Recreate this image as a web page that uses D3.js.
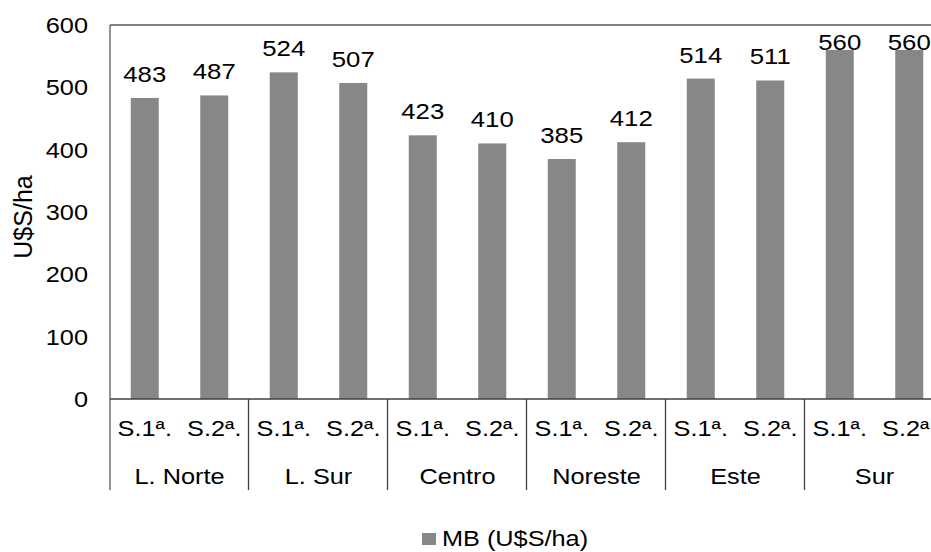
<!DOCTYPE html>
<html>
<head>
<meta charset="utf-8">
<script src="https://cdn.jsdelivr.net/npm/d3@7"></script>
<style>
  html, body { margin: 0; padding: 0; background: #fff; }
  svg { display: block; font-family: "Liberation Sans", Arial, sans-serif; }
</style>
</head>
<body>
<svg id="chart" width="931" height="552"></svg>
<script>
// Regions and seasons
const regions = ["L. Norte", "L. Sur", "Centro", "Noreste", "Este", "Sur"];
const seasons = ["S.1ª.", "S.2ª."];
// Gross margin (U$S/ha) per region, first and second season
const mbSeason1 = [483, 524, 423, 385, 514, 560];
const mbSeason2 = [487, 507, 410, 412, 511, 560];
const yTicks = [0, 100, 200, 300, 400, 500, 600];
const seriesName = "MB (U$S/ha)";

const rows = [];
regions.forEach((r, i) => {
  rows.push({ region: r, season: seasons[0], value: mbSeason1[i] });
  rows.push({ region: r, season: seasons[1], value: mbSeason2[i] });
});

const svg = d3.select("#chart");
const plotLeft = 110, plotTop = 25, plotBottom = 399, groupW = 139;
const plotRight = plotLeft + groupW * regions.length;
const barColor = "#878787";
const axisColor = "#595959";
const wide = 1.15; // horizontal text widening

const xGroup = d3.scaleBand().domain(regions).range([plotLeft, plotRight]).padding(0);
const xInner = d3.scaleBand().domain(seasons).range([0, xGroup.bandwidth()]).padding(0);
const y = d3.scaleLinear().domain([0, 600]).range([plotBottom, plotTop]);
const barW = 28;
const barCenter = d => xGroup(d.region) + xInner(d.season) + xInner.bandwidth() / 2;

// place widened text at (x, y)
const placeText = (sel, fx, fy, sx = wide) =>
  sel.attr("transform", (d, i) => `translate(${fx(d, i)},${fy(d, i)}) scale(${sx},1)`);

// Frame: top edge, left axis
svg.append("line").attr("x1", plotLeft).attr("x2", plotRight).attr("y1", y(600)).attr("y2", y(600))
  .attr("stroke", axisColor).attr("stroke-width", 1.3);
svg.append("line").attr("x1", plotLeft).attr("x2", plotLeft).attr("y1", y(600)).attr("y2", 490)
  .attr("stroke", axisColor).attr("stroke-width", 1.3);

// Bars
svg.append("g").selectAll("rect").data(rows).join("rect")
  .attr("x", d => barCenter(d) - barW / 2)
  .attr("width", barW)
  .attr("y", d => y(d.value))
  .attr("height", d => y(0) - y(d.value))
  .attr("fill", barColor);

// Baseline over bars
svg.append("line").attr("x1", plotLeft).attr("x2", plotRight).attr("y1", y(0)).attr("y2", y(0))
  .attr("stroke", "#404040").attr("stroke-width", 1.3);

// Group separators in the category area
svg.append("g").selectAll("line").data(regions.slice(1)).join("line")
  .attr("x1", d => xGroup(d) - 0.5).attr("x2", d => xGroup(d) - 0.5)
  .attr("y1", y(0)).attr("y2", 490)
  .attr("stroke", "#404040").attr("stroke-width", 1.3);

// Value labels, kept inside the plot area
svg.append("g").selectAll("text").data(rows).join("text")
  .attr("text-anchor", "middle")
  .attr("font-size", 23)
  .attr("fill", "#000")
  .call(placeText, d => barCenter(d), d => Math.max(y(d.value) - 16, y(600) + 25), 1.12)
  .text(d => d.value);

// Y tick labels
svg.append("g").selectAll("text").data(yTicks).join("text")
  .attr("text-anchor", "end")
  .attr("font-size", 22)
  .attr("fill", "#000")
  .call(placeText, () => 88, d => y(d) + 8)
  .text(d => d);

// Y axis title
svg.append("text")
  .attr("transform", `translate(32, ${(plotTop + plotBottom) / 2 + 5}) rotate(-90)`)
  .attr("text-anchor", "middle")
  .attr("font-size", 25)
  .text("U$S/ha");

// Season labels
svg.append("g").selectAll("text").data(rows).join("text")
  .attr("text-anchor", "middle")
  .attr("font-size", 22)
  .call(placeText, d => barCenter(d), () => 436)
  .text(d => d.season);

// Region labels
svg.append("g").selectAll("text").data(regions).join("text")
  .attr("text-anchor", "middle")
  .attr("font-size", 22)
  .call(placeText, d => xGroup(d) + xGroup.bandwidth() / 2, () => 484)
  .text(d => d);

// Legend
const legend = svg.append("g").attr("transform", "translate(422, 533)");
legend.append("rect").attr("width", 14).attr("height", 12).attr("fill", barColor);
legend.append("text")
  .attr("font-size", 22)
  .attr("transform", `translate(20,13) scale(${wide},1)`)
  .text(seriesName);
</script>
</body>
</html>
